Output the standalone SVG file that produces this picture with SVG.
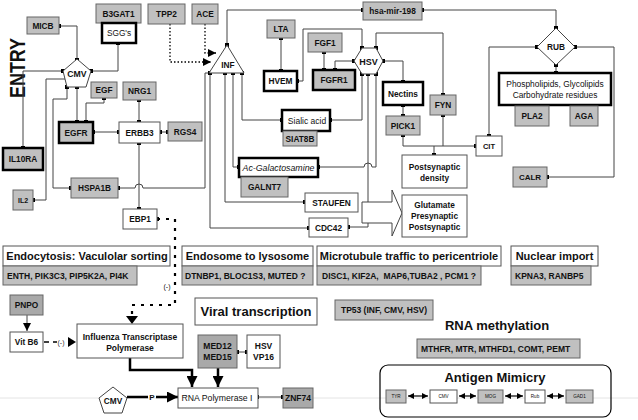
<svg xmlns="http://www.w3.org/2000/svg" width="638" height="420" viewBox="0 0 638 420">
<style>
text{font-family:"Liberation Sans",Arial,Helvetica,sans-serif;fill:#111}
.l{font-size:8.3px;font-weight:bold;text-anchor:middle}
.n{font-size:8.3px;text-anchor:middle}
.ls{font-size:8.5px;font-weight:bold}
.h{font-size:11px;font-weight:bold;text-anchor:middle}
.H{font-size:13px;font-weight:bold;text-anchor:middle}
.t{font-size:4.6px;text-anchor:middle}
.g{fill:#c0c0c0;stroke:#666;stroke-width:1}
.gd{fill:#a9a9a9;stroke:#666;stroke-width:1}
.w{fill:#fff;stroke:#555;stroke-width:1}
.k{fill:#fff;stroke:#000;stroke-width:2.5}
.kg{fill:#c0c0c0;stroke:#000;stroke-width:2.5}
.c{fill:none;stroke:#444;stroke-width:1}
.d{fill:none;stroke:#000;stroke-width:1.3;stroke-dasharray:1.5,2}
.e{fill:none;stroke:#000;stroke-width:2.2;stroke-dasharray:3,6}
.T{fill:none;stroke:#000;stroke-width:2.5}
.sh{fill:#fff;stroke:#444;stroke-width:1}
</style>
<defs>
<rect id="sq" x="-2" y="-2" width="4" height="4" fill="#000"/>
<marker id="ah" viewBox="0 0 10 10" refX="10" refY="5" markerWidth="8" markerHeight="8" markerUnits="userSpaceOnUse" orient="auto"><path d="M0,0 L10,5 L0,10 z" fill="#000"/></marker>
<marker id="ahb" viewBox="0 0 10 10" refX="10" refY="5" markerWidth="11" markerHeight="11" markerUnits="userSpaceOnUse" orient="auto"><path d="M0,0 L10,5 L0,10 z" fill="#000"/></marker>
<marker id="ahs" viewBox="0 0 10 10" refX="10" refY="5" markerWidth="6" markerHeight="6" markerUnits="userSpaceOnUse" orient="auto-start-reverse"><path d="M0,0 L10,5 L0,10 z" fill="#000"/></marker>
</defs>

<line x1="0" y1="398" x2="638" y2="398" stroke="#e4e4e4" stroke-width="1"/>

<text transform="translate(25,68) rotate(-90)" style="font-size:22px;font-weight:bold;text-anchor:middle" textLength="60" lengthAdjust="spacingAndGlyphs">ENTRY</text>

<g id="connectors">
<path class="c" d="M59,26 H77 V60"/>
<path class="c" d="M118,43 V71 H91"/>
<path class="c" d="M63,71 H23 V148"/>
<path class="c" d="M65,79 H46 V200 H33"/>
<path class="c" d="M67,87 V99 H53 V188 H71"/>
<path class="c" d="M77,87 V122"/>
<path class="c" d="M104,98 V103 H86 V122"/>
<path class="c" d="M139,100 V122"/>
<path class="c" d="M93,132 H119"/>
<path class="c" d="M160,132 H168"/>
<path class="c" d="M139,143 V209"/>
<path class="c" d="M118,188 H135 A4,4 0 0 1 143,188 H205 V73 H210"/>
<path class="c" d="M210,73 V228 H309"/>
<path class="c" d="M225,73 V202 H305"/>
<path class="c" d="M233,73 V167 H239"/>
<path class="c" d="M242,73 V120 H282"/>
<path class="c" d="M227,45 V10 H363"/>
<path class="c" d="M422,10 H556 V28"/>
<path class="c" d="M281,38 V71"/>
<path class="c" d="M297,81 H303 V29 H362 V48"/>
<path class="c" d="M324,52 V70"/>
<path class="c" d="M335,70 V61 H354"/>
<path class="c" d="M362,74 V120 H330"/>
<path class="c" d="M368,74 V227 H348"/>
<path class="c" d="M376,74 V167 H372 A4,4 0 0 0 364,167 H318"/>
<path class="c" d="M376,48 V33 H443 V95"/>
<path class="c" d="M383,61 H403 V82"/>
<path class="c" d="M403,105 V116"/>
<path class="c" d="M403,135 V146 H476"/>
<path class="c" d="M443,115 V146"/>
<path class="c" d="M434,146 V155"/>
<path class="c" d="M537,47 H489 V136"/>
<path class="c" d="M556,65 V73"/>
<path class="c" d="M575,47 H614 V177 H547"/>
<path class="d" d="M170,24 V62 H211" marker-end="url(#ah)"/>
<path class="d" d="M205,24 V53 H216" marker-end="url(#ah)"/>
<path class="e" d="M157,219 H175 V305 H132 V316"/>
<path d="M126,316 L138,316 L132,324 z" fill="#000"/>
<text x="167" y="289" style="font-size:7px;text-anchor:middle">(-)</text>
<path class="c" d="M27,315 V331" marker-end="url(#ah)"/>
<path d="M44,342 H49 M53,342 H57" stroke="#000" stroke-width="1.5"/>
<text x="61" y="344.5" style="font-size:7px;text-anchor:middle;fill:#333">(-)</text>
<path d="M68,337 L76,342 L68,347 z" fill="#000"/>
<path class="T" d="M130,358 V370 H192 V387" marker-end="url(#ahb)"/>
<path class="T" d="M218,368 V387" marker-end="url(#ahb)"/>
<path class="T" d="M127,397 H148"/>
<text x="152" y="400" style="font-size:8px;font-weight:bold;text-anchor:middle">P</text>
<path class="T" d="M156,397 H178" marker-end="url(#ahb)"/>
<path class="c" d="M237,352 H247"/>
<path d="M258,397 H283" stroke="#888" stroke-width="1.5"/>
<path d="M408,396 H428" stroke="#000" stroke-width="1.2" marker-start="url(#ahs)" marker-end="url(#ahs)"/>
<path d="M459,396 H476" stroke="#000" stroke-width="1.2" marker-start="url(#ahs)" marker-end="url(#ahs)"/>
<path d="M505,396 H523" stroke="#000" stroke-width="1.2" marker-start="url(#ahs)" marker-end="url(#ahs)"/>
<path d="M547,396 H564" stroke="#000" stroke-width="1.2" marker-start="url(#ahs)" marker-end="url(#ahs)"/>
<g>
<use href="#sq" x="59" y="26"/><use href="#sq" x="77" y="60"/>
<use href="#sq" x="118" y="43"/><use href="#sq" x="91" y="71"/>
<use href="#sq" x="63" y="71"/><use href="#sq" x="23" y="148"/>
<use href="#sq" x="33" y="200"/>
<use href="#sq" x="67" y="87"/><use href="#sq" x="77" y="87"/>
<use href="#sq" x="71" y="188"/><use href="#sq" x="118" y="188"/>
<use href="#sq" x="77" y="122"/><use href="#sq" x="86" y="122"/>
<use href="#sq" x="104" y="98"/>
<use href="#sq" x="139" y="100"/><use href="#sq" x="139" y="122"/>
<use href="#sq" x="93" y="132"/><use href="#sq" x="119" y="132"/>
<use href="#sq" x="160" y="132"/><use href="#sq" x="168" y="132"/>
<use href="#sq" x="139" y="143"/><use href="#sq" x="139" y="209"/>
<use href="#sq" x="157" y="219"/>
<use href="#sq" x="227" y="45"/>
<use href="#sq" x="210" y="73"/><use href="#sq" x="225" y="73"/><use href="#sq" x="233" y="73"/><use href="#sq" x="242" y="73"/>
<use href="#sq" x="305" y="202"/><use href="#sq" x="309" y="228"/><use href="#sq" x="239" y="167"/><use href="#sq" x="282" y="120"/>
<use href="#sq" x="363" y="10"/><use href="#sq" x="422" y="10"/><use href="#sq" x="556" y="28"/>
<use href="#sq" x="281" y="38"/><use href="#sq" x="281" y="71"/><use href="#sq" x="297" y="81"/>
<use href="#sq" x="324" y="52"/><use href="#sq" x="324" y="70"/><use href="#sq" x="335" y="70"/>
<use href="#sq" x="362" y="48"/><use href="#sq" x="376" y="48"/><use href="#sq" x="354" y="61"/><use href="#sq" x="383" y="61"/>
<use href="#sq" x="362" y="74"/><use href="#sq" x="368" y="74"/><use href="#sq" x="376" y="74"/>
<use href="#sq" x="330" y="120"/><use href="#sq" x="318" y="167"/><use href="#sq" x="348" y="227"/>
<use href="#sq" x="443" y="95"/><use href="#sq" x="443" y="115"/>
<use href="#sq" x="403" y="82"/><use href="#sq" x="403" y="105"/><use href="#sq" x="403" y="116"/><use href="#sq" x="403" y="135"/>
<use href="#sq" x="434" y="155"/><use href="#sq" x="476" y="146"/><use href="#sq" x="489" y="136"/>
<use href="#sq" x="537" y="47"/><use href="#sq" x="575" y="47"/><use href="#sq" x="556" y="65"/><use href="#sq" x="556" y="73"/>
<use href="#sq" x="547" y="177"/>
<use href="#sq" x="237" y="352"/><use href="#sq" x="247" y="352"/>
<use href="#sq" x="257" y="397"/><use href="#sq" x="283" y="397"/>
</g>
</g>

<g id="micb"><rect class="g" x="27" y="17" width="32" height="17"/><text class="l" x="43" y="28.5">MICB</text></g>
<g id="b3gat1"><rect class="g" x="96" y="4" width="45" height="19"/><text class="l" x="118.5" y="16.5">B3GAT1</text></g>
<g id="sggs"><rect class="k" x="102" y="23" width="34" height="20"/><text class="n" x="119" y="36">SGG's</text></g>
<g id="cmv"><polygon class="sh" points="77,59 91,71 86,87 67,87 63,71"/><text class="l" x="77" y="77" style="font-size:8.7px">CMV</text></g>
<g id="egf"><rect class="g" x="91" y="82" width="26" height="16"/><text class="l" x="104" y="93">EGF</text></g>
<g id="nrg1"><rect class="g" x="123" y="82" width="33" height="18"/><text class="l" x="139.5" y="94">NRG1</text></g>
<g id="egfr"><rect class="kg" x="59" y="122" width="34" height="21"/><text class="l" x="76" y="135.5">EGFR</text></g>
<g id="erbb3"><rect class="w" x="119" y="122" width="41" height="21"/><text class="l" x="139.5" y="135.5">ERBB3</text></g>
<g id="rgs4"><rect class="g" x="168" y="122" width="34" height="19"/><text class="l" x="185" y="134.5">RGS4</text></g>
<g id="il10ra"><rect class="kg" x="3" y="148" width="40" height="22"/><text class="l" x="23" y="162">IL10RA</text></g>
<g id="il2"><rect class="g" x="13" y="190" width="20" height="20"/><text class="l" x="23" y="202.5" style="font-size:7px">IL2</text></g>
<g id="hspa1b"><rect class="g" x="71" y="178" width="47" height="20"/><text class="l" x="94.5" y="191">HSPA1B</text></g>
<g id="ebp1"><rect class="w" x="123" y="209" width="34" height="20"/><text class="l" x="140" y="222">EBP1</text></g>
<g id="tpp2"><rect class="g" x="148" y="4" width="37" height="20"/><text class="l" x="166.5" y="17">TPP2</text></g>
<g id="ace"><rect class="g" x="192" y="4" width="26" height="20"/><text class="l" x="205" y="17">ACE</text></g>
<g id="inf"><polygon class="sh" points="227,45 244,73 209,73"/><text class="l" x="228" y="68">INF</text></g>
<g id="lta"><rect class="g" x="267" y="20" width="28" height="18"/><text class="l" x="281" y="32">LTA</text></g>
<g id="hvem"><rect class="k" x="264" y="71" width="33" height="20"/><text class="l" x="280.5" y="84">HVEM</text></g>
<g id="fgf1"><rect class="g" x="308" y="33" width="34" height="19"/><text class="l" x="325" y="45.5">FGF1</text></g>
<g id="fgfr1"><rect class="kg" x="313" y="70" width="42" height="20"/><text class="l" x="334" y="83">FGFR1</text></g>
<g id="hsv"><polygon class="sh" points="354,61 362,48 376,48 383,61 376,74 362,74"/><text class="l" x="368.5" y="64.5" style="font-size:9px">HSV</text></g>
<g id="hsamir198"><rect class="g" x="363" y="2" width="59" height="18"/><text class="l" x="392.5" y="14">hsa-mir-198</text></g>
<g id="nectins"><rect class="k" x="383" y="82" width="40" height="23"/><text class="l" x="403" y="96.5">Nectins</text></g>
<g id="fyn"><rect class="g" x="430" y="95" width="26" height="20"/><text class="l" x="443" y="108">FYN</text></g>
<g id="pick1"><rect class="g" x="386" y="116" width="34" height="19"/><text class="l" x="403" y="128.5">PICK1</text></g>
<g id="sialic"><rect class="k" x="282" y="110" width="48" height="21"/><text class="n" x="307" y="123.5" style="font-size:8.5px">Sialic acid</text></g>
<g id="siat8b"><rect class="g" x="283" y="131" width="34" height="15"/><text class="l" x="300" y="141.5">SIAT8B</text></g>
<g id="acgal"><rect class="k" x="239" y="158" width="79" height="19"/><text class="n" x="278.5" y="170.5" style="font-size:8.8px;font-style:italic">Ac-Galactosamine</text></g>
<g id="galnt7"><rect class="g" x="241" y="177" width="47" height="20"/><text class="l" x="264.5" y="190">GALNT7</text></g>
<g id="staufen"><rect class="w" x="305" y="193" width="53" height="19"/><text class="l" x="331.5" y="205.5">STAUFEN</text></g>
<g id="cdc42"><rect class="w" x="309" y="218" width="39" height="19"/><text class="l" x="328.5" y="230.5">CDC42</text></g>
<g id="glutarrow"><polygon class="sh" points="362,202 392,202 392,190 402,213 392,236 392,223 362,223"/></g>
<g id="postsyn"><rect class="w" x="402" y="155" width="65" height="33"/><text class="l" x="434.5" y="170">Postsynaptic</text><text class="l" x="434.5" y="180.5">density</text></g>
<g id="glutamate"><rect class="w" x="402" y="195" width="65" height="42"/><text class="l" x="434.5" y="207.5">Glutamate</text><text class="l" x="434.5" y="218.5">Presynaptic</text><text class="l" x="434.5" y="229.5">Postsynaptic</text></g>
<g id="cit"><rect class="w" x="476" y="136" width="26" height="20"/><text class="l" x="489" y="149" style="font-size:7.5px">CIT</text></g>
<g id="rub"><polygon class="sh" points="556,28 575,47 556,65 537,47"/><text class="l" x="556" y="50">RUB</text></g>
<g id="lipids"><rect class="k" x="499" y="73" width="112" height="32"/><text class="n" x="555" y="87" style="font-size:8.4px">Phospholipids, Glycolipids</text><text class="n" x="555" y="98" style="font-size:8.4px">Carbohydrate residues</text></g>
<g id="pla2"><rect class="g" x="515" y="106" width="34" height="20"/><text class="l" x="532" y="119">PLA2</text></g>
<g id="aga"><rect class="g" x="570" y="106" width="28" height="20"/><text class="l" x="584" y="119">AGA</text></g>
<g id="calr"><rect class="g" x="513" y="167" width="34" height="20"/><text class="l" x="530" y="180" style="font-size:8px">CALR</text></g>

<g id="endocytosis"><rect class="w" x="3" y="246" width="167" height="20"/><text class="h" x="87" y="260">Endocytosis: Vaculolar sorting</text><rect class="g" x="3" y="266" width="134" height="19"/><text class="ls" x="7" y="278.5">ENTH, PIK3C3, PIP5K2A, PI4K</text></g>
<g id="endosome"><rect class="w" x="182" y="246" width="131" height="20"/><text class="h" x="247.5" y="260">Endosome to lysosome</text><rect class="g" x="182" y="266" width="131" height="19"/><text class="ls" x="185" y="278.5">DTNBP1, BLOC1S3, MUTED ?</text></g>
<g id="microtubule"><rect class="w" x="317" y="246" width="184" height="20"/><text class="h" x="409" y="260">Microtubule traffic to pericentriole</text><rect class="g" x="317" y="266" width="164" height="19"/><text class="ls" x="322" y="278.5" xml:space="preserve">DISC1, KIF2A,  MAP6,TUBA2 , PCM1 ?</text></g>
<g id="nuclear"><rect class="w" x="511" y="246" width="87" height="20"/><text class="h" x="554.5" y="260">Nuclear import</text><rect class="g" x="511" y="266" width="80" height="19"/><text class="ls" x="515" y="278.5">KPNA3, RANBP5</text></g>

<g id="pnpo"><rect class="gd" x="10" y="295" width="33" height="20"/><text class="l" x="26.5" y="308">PNPO</text></g>
<g id="vitb6"><rect class="w" x="10" y="332" width="33" height="20"/><text class="l" x="26.5" y="345">Vit B6</text></g>
<g id="influenza"><rect class="w" x="77" y="324" width="106" height="34"/><text class="l" x="130" y="340" style="font-size:8.5px">Influenza Transcriptase</text><text class="l" x="130" y="350.5" style="font-size:8.5px">Polymerase</text></g>
<g id="viral"><rect class="w" x="195" y="298" width="122" height="27"/><text class="H" x="256" y="316">Viral transcription</text></g>
<g id="tp53"><rect class="g" x="335" y="300" width="98" height="20"/><text class="l" x="384" y="313" style="font-size:8.5px">TP53 (INF, CMV, HSV)</text></g>
<g id="rnameth"><text class="H" x="497" y="330">RNA methylation</text><rect class="g" x="417" y="339" width="163" height="19"/><text class="ls" x="421" y="351.5">MTHFR, MTR, MTHFD1, COMT, PEMT</text></g>
<g id="med"><rect class="gd" x="198" y="335" width="39" height="33"/><text class="l" x="217.5" y="349" style="font-size:8.5px">MED12</text><text class="l" x="217.5" y="360" style="font-size:8.5px">MED15</text></g>
<g id="hsvvp16"><rect class="w" x="247" y="335" width="33" height="33"/><text class="l" x="263.5" y="349" style="font-size:8.5px">HSV</text><text class="l" x="263.5" y="360" style="font-size:8.5px">VP16</text></g>
<g id="cmv2"><polygon class="sh" points="113,387 127,398 122,413 104,413 99,398"/><text class="l" x="113" y="404">CMV</text></g>
<g id="rnapol"><rect class="w" x="178" y="388" width="80" height="20"/><text class="n" x="217" y="400.5" style="font-size:8.7px">RNA Polymerase I</text></g>
<g id="znf74"><rect class="gd" x="283" y="388" width="30" height="20"/><text class="l" x="298" y="401" style="font-size:8.5px">ZNF74</text></g>

<g id="antigen">
<rect x="380" y="365" width="231" height="52" rx="8" fill="none" stroke="#000" stroke-width="1.2"/>
<text class="H" x="495" y="382">Antigen Mimicry</text>
<rect class="g" x="386" y="390" width="20" height="13"/><text class="t" x="396" y="398">TYR</text>
<rect class="w" x="430" y="390" width="27" height="13"/><text class="t" x="443.5" y="398">CMV</text>
<rect class="g" x="478" y="390" width="25" height="13"/><text class="t" x="490.5" y="398">MOG</text>
<rect class="w" x="525" y="390" width="20" height="13"/><text class="t" x="535" y="398">Rub</text>
<rect class="g" x="566" y="390" width="27" height="13"/><text class="t" x="579.5" y="398">GAD1</text>
</g>
</svg>
